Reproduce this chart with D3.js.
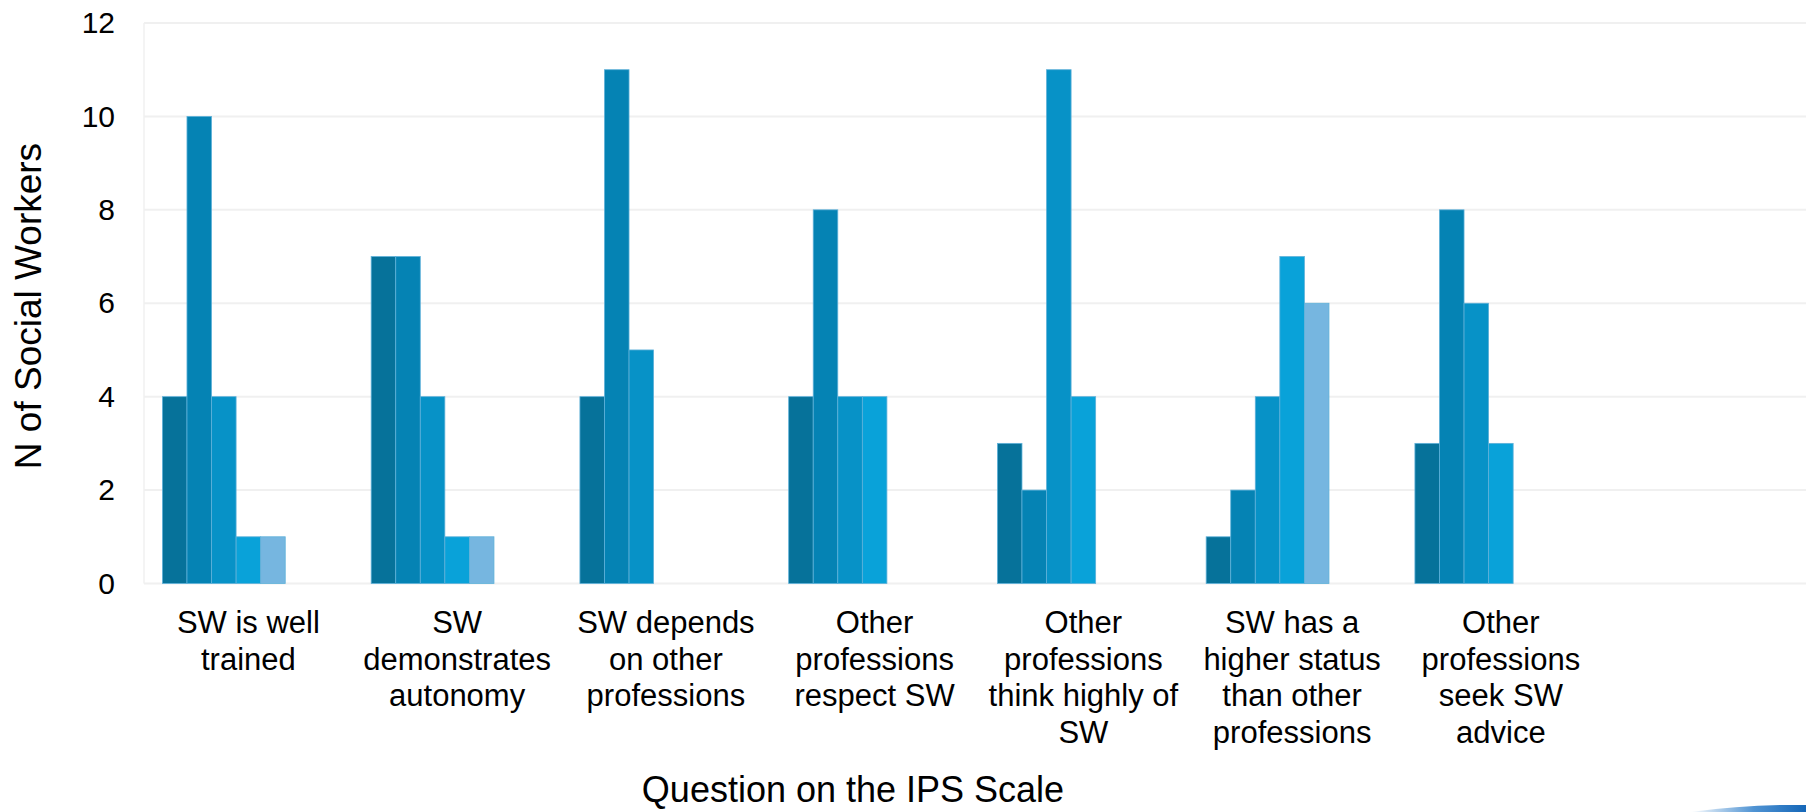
<!DOCTYPE html>
<html>
<head>
<meta charset="utf-8">
<script src="https://cdn.jsdelivr.net/npm/d3@7"></script>
<style>
  body { margin: 0; background: #fff; }
  svg { display: block; font-family: "Liberation Sans", Arial, sans-serif; }
</style>
</head>
<body>
<div id="chart"></div>
<script>
// questions on the IPS scale (last slot is an empty category, as in the original)
var questions = ['q1', 'q2', 'q3', 'q4', 'q5', 'q6', 'q7', 'q8'];
var questionLabels = [
  ['SW is well', 'trained'],
  ['SW', 'demonstrates', 'autonomy'],
  ['SW depends', 'on other', 'professions'],
  ['Other', 'professions', 'respect SW'],
  ['Other', 'professions', 'think highly of', 'SW'],
  ['SW has a', 'higher status', 'than other', 'professions'],
  ['Other', 'professions', 'seek SW', 'advice'],
  []
];
var seriesNames = ['s1', 's2', 's3', 's4', 's5', 's6', 's7'];
var seriesColors = ['#06729a', '#0583b4', '#0792c7', '#09a2d9', '#76b6e0', '#9ccbea', '#bddcf0'];

// one array per series, one value per question
var s1 = [4, 7, 4, 4, 3, 1, 3, 0];
var s2 = [10, 7, 11, 8, 2, 2, 8, 0];
var s3 = [4, 4, 5, 4, 11, 4, 6, 0];
var s4 = [1, 1, 0, 4, 4, 7, 3, 0];
var s5 = [1, 1, 0, 0, 0, 6, 0, 0];
var s6 = [0, 0, 0, 0, 0, 0, 0, 0];
var s7 = [0, 0, 0, 0, 0, 0, 0, 0];
var seriesValues = [s1, s2, s3, s4, s5, s6, s7];

var yTicks = [0, 2, 4, 6, 8, 10, 12];

var W = 1806, H = 812;
var plotLeft = 144, plotRight = 1814, plotTop = 23, plotBottom = 583.5;

var svg = d3.select('#chart').append('svg').attr('width', W).attr('height', H);

var x0 = d3.scaleBand().domain(questions).range([plotLeft, plotRight]).padding(0);
var x1 = d3.scaleBand().domain(seriesNames).range([0, x0.bandwidth()])
  .paddingInner(0).paddingOuter(0.75);
var y = d3.scaleLinear().domain([0, 12]).range([plotBottom, plotTop]);

// gridlines
svg.append('g').selectAll('line').data(yTicks).enter().append('line')
  .attr('x1', plotLeft).attr('x2', W)
  .attr('y1', function (d) { return y(d); }).attr('y2', function (d) { return y(d); })
  .style('stroke', '#f0f0f0').style('stroke-width', 2);

svg.append('line').attr('x1', plotLeft).attr('x2', plotLeft)
  .attr('y1', plotTop).attr('y2', plotBottom)
  .style('stroke', '#f0f0f0').style('stroke-width', 1.5);

// y axis labels
var yAxis = d3.axisLeft(y).tickValues(yTicks).tickSize(0).tickPadding(0);
var yg = svg.append('g').attr('transform', 'translate(115,0)').call(yAxis);
yg.select('.domain').remove();
yg.selectAll('text').style('font-size', '30px').style('fill', '#000')
  .attr('font-family', '"Liberation Sans", Arial, sans-serif');

// bars
var groups = svg.append('g').selectAll('g').data(questions).enter().append('g')
  .attr('transform', function (d) { return 'translate(' + x0(d) + ',0)'; });

groups.selectAll('rect').data(function (q, i) {
  return seriesNames.map(function (s, j) { return { s: s, j: j, v: seriesValues[j][i] }; })
    .filter(function (d) { return d.v > 0; });
}).enter().append('rect')
  .attr('x', function (d) { return x1(d.s); })
  .attr('width', x1.bandwidth())
  .attr('y', function (d) { return y(d.v); })
  .attr('height', function (d) { return y(0) - y(d.v); })
  .style('fill', function (d) { return seriesColors[d.j]; })
  .style('stroke', '#5fb1d9').style('stroke-width', 0.8);

// category labels
var cat = svg.append('g').selectAll('text').data(questions).enter().append('text')
  .attr('text-anchor', 'middle')
  .attr('x', function (d) { return x0(d) + x0.bandwidth() / 2; })
  .attr('y', 633)
  .style('font-size', '31px').style('fill', '#000');
cat.each(function (d, i) {
  var t = d3.select(this);
  questionLabels[i].forEach(function (line, k) {
    t.append('tspan').attr('x', x0(d) + x0.bandwidth() / 2).attr('dy', k === 0 ? 0 : 36.5).text(line);
  });
});

// axis titles
svg.append('text').text('Question on the IPS Scale')
  .attr('x', 853).attr('y', 802).attr('text-anchor', 'middle')
  .style('font-size', '36px').style('fill', '#000');

svg.append('text').text('N of Social Workers')
  .attr('transform', 'translate(41,306) rotate(-90)').attr('text-anchor', 'middle')
  .style('font-size', '37px').style('fill', '#000');

// little template swoosh in the bottom right corner
var grad = svg.append('defs').append('linearGradient').attr('id', 'sw')
  .attr('x1', '0%').attr('x2', '100%');
grad.append('stop').attr('offset', '0%').attr('stop-color', '#ffffff');
grad.append('stop').attr('offset', '55%').attr('stop-color', '#4f93d3');
grad.append('stop').attr('offset', '100%').attr('stop-color', '#1567b8');
svg.append('path').attr('d', 'M1690,812 Q1750,804 1806,805 L1806,812 Z').style('fill', 'url(#sw)');
</script>
</body>
</html>
